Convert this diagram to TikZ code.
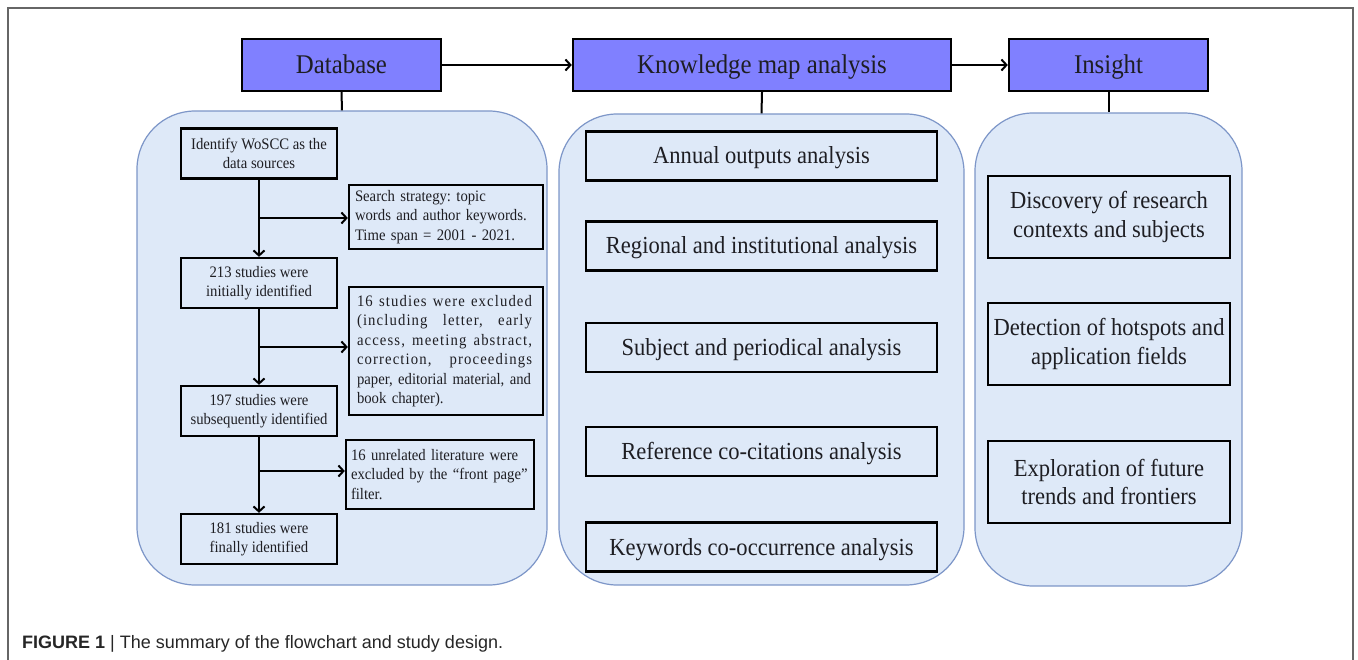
\documentclass[tikz,border=0pt]{standalone}
\usepackage{fontspec}
\setmainfont{Liberation Serif}[FakeStretch=0.92]
\setsansfont{Liberation Sans}
\usepackage{tikz}
\usetikzlibrary{arrows.meta}
\definecolor{headfill}{RGB}{128,128,255}
\definecolor{panelfill}{RGB}{222,233,248}
\definecolor{paneldraw}{RGB}{125,150,200}
\definecolor{inktext}{RGB}{30,30,35}
\newcommand*{\jline}[1]{\leavevmode\hbox to 175pt{\addfontfeature{LetterSpace=7}%
  \spaceskip=0.25em plus 1fil\relax #1}}
\frenchspacing

\begin{document}
\begin{tikzpicture}[x=1pt, y=-1pt,
    every node/.style={text=inktext, inner sep=0pt},
    headbox/.style={draw=black, line width=2.4pt, fill=headfill, minimum height=52pt,
      text height=18pt, text depth=0pt, font=\fontsize{27}{32}\selectfont},
    panel/.style={draw=paneldraw, line width=1.2pt, fill=panelfill, rounded corners=58pt},
    stepbox/.style={draw=black, line width=2.4pt, minimum width=156pt, minimum height=50pt,
      align=center, font=\fontsize{16}{19.5}\selectfont},
    notebox/.style={draw=black, line width=2.4pt, align=left, inner ysep=5pt,
      font=\fontsize{16}{19.5}\selectfont},
    mapbox/.style={draw=black, line width=2.4pt, minimum width=351pt, minimum height=49pt,
      text height=16pt, text depth=0pt, font=\fontsize{24.5}{28}\selectfont},
    insightbox/.style={draw=black, line width=2.4pt, minimum width=242pt, minimum height=82pt,
      align=center, font=\fontsize{24.5}{28.5}\selectfont},
    flow/.style={line width=2pt, -{Straight Barb[length=5pt,width=11pt]}},
    link/.style={line width=2pt}]
  \useasboundingbox (0,0) rectangle (1358,660);

  \draw[black!60, line width=1.2pt] (8,662) -- (8,8) -- (1353,8) -- (1353,662);

  \node[headbox, minimum width=199pt] (db) at (341.5,65) {Database};
  \node[headbox, minimum width=378pt] (kma) at (762,65) {Knowledge map analysis};
  \node[headbox, minimum width=199pt] (ins) at (1108.5,65) {Insight};

  \draw[flow] (db) -- (kma);
  \draw[flow] (kma) -- (ins);

  \node[panel, minimum width=410pt, minimum height=474pt] (dbpanel) at (342,348) {};
  \node[panel, minimum width=405pt, minimum height=471pt] (kmapanel) at (761.5,349.5) {};
  \node[panel, minimum width=267pt, minimum height=473pt] (inspanel) at (1108.5,349.5) {};

  \draw[link] (db.south) -- (dbpanel.north);
  \draw[link] (kma.south) -- (kmapanel.north);
  \draw[link] (ins.south) -- (inspanel.north);

  \node[stepbox] (s0) at (259,153.5) {Identify WoSCC as the\\data sources};
  \node[stepbox] (s1) at (259,283) {213 studies were\\initially identified};
  \node[stepbox] (s2) at (259,411) {197 studies were\\subsequently identified};
  \node[stepbox] (s3) at (259,539) {181 studies were\\finally identified};

  \node[notebox, text width=182pt, inner xsep=6pt] (n1) at (446,217)
    {Search strategy: topic\\words and author keywords.\\Time span = 2001 - 2021.};
  \node[notebox, text width=178pt, inner xsep=8pt, minimum height=128pt] (n2) at (446,351)
    {\jline{16 studies were excluded}\\\jline{(including letter, early}\\
     \jline{access, meeting abstract,}\\\jline{correction, proceedings}\\
     paper, editorial material, and\\book chapter).};
  \node[notebox, text width=178pt, inner xsep=5pt, minimum height=69pt] (n3) at (440,474.5)
    {16 unrelated literature were\\excluded by the “front page”\\filter.};

  \draw[flow] (s0) -- (s1);
  \draw[flow] (s1) -- (s2);
  \draw[flow] (s2) -- (s3);

  \coordinate (b1) at (259,218);
  \coordinate (b2) at (259,347);
  \coordinate (b3) at (259,471);
  \draw[flow] (b1) -- (b1 -| n1.west);
  \draw[flow] (b2) -- (b2 -| n2.west);
  \draw[flow] (b3) -- (b3 -| n3.west);

  \foreach \y/\txt [count=\i] in {156/Annual outputs analysis,
      246/Regional and institutional analysis, 347.5/Subject and periodical analysis,
      451.5/Reference co-citations analysis, 547/Keywords co-occurrence analysis}
  {
    \node[mapbox] (m\i) at (761.5,\y) {\txt};
  }

  \foreach \y/\txt [count=\i] in {217/{Discovery of research\\contexts and subjects},
      344/{Detection of hotspots and\\application fields},
      482/{Exploration of future\\trends and frontiers}}
  {
    \node[insightbox] (r\i) at (1109,\y) {\txt};
  }

  \node[anchor=base west, text=black!85, font=\sffamily\fontsize{18}{22}\selectfont] (caption)
    at (22,648) {\textbf{FIGURE 1} | The summary of the flowchart and study design.};
\end{tikzpicture}
\end{document}
